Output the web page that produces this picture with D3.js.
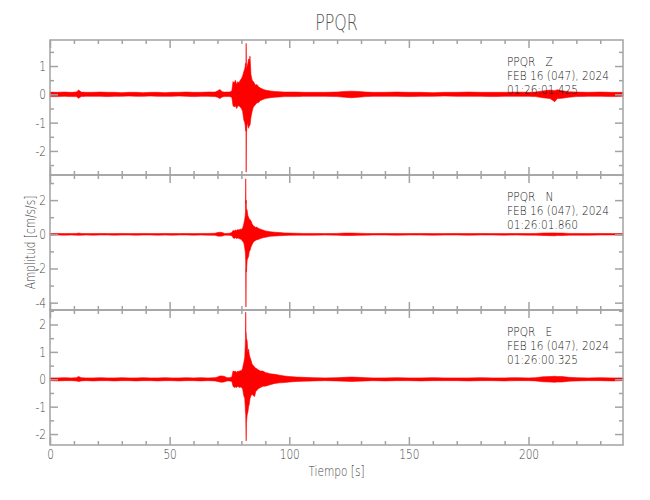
<!DOCTYPE html>
<html><head><meta charset="utf-8">
<script src="https://cdn.jsdelivr.net/npm/d3@7"></script>
<style>
body{margin:0;background:#fff}
svg{display:block}
text{font-family:"DejaVu Sans",sans-serif;font-weight:200}
</style>
</head><body>
<svg id="chart" width="650" height="500"></svg>
<script>
// ---------------- data (envelope of each trace) ----------------
const title = "PPQR";
const xLabel = "Tiempo [s]";
const yLabel = "Amplitud [cm/s/s]";
const xTicks = [0, 50, 100, 150, 200];
const components = ["Z", "N", "E"];
const startTimes = ["01:26:01.425", "01:26:01.860", "01:26:00.325"];
const dateLabel = "FEB 16 (047), 2024";

const times = [
  0, 3, 6, 9, 11, 12, 13, 15,
  18, 21, 24, 27, 30, 33, 36, 39, 42, 45, 48, 51, 54, 57, 60, 63, 66,
  69, 70, 71, 72, 73, 74, 75, 76,
  76.5, 77, 77.5, 78, 78.5, 79, 79.5, 80, 80.5, 81,
  81.4, 81.6, 81.7, 81.8, 81.9, 82.0, 82.1, 82.4, 82.7, 83, 83.3, 83.6, 84,
  84.5, 85, 85.5, 86, 86.5, 87, 88, 89, 90, 92,
  94, 96, 98, 100, 103, 106, 110, 115, 120,
  123, 126, 129, 132,
  135, 140, 145, 150, 155, 160, 165, 170, 175, 180, 185, 190, 195, 200,
  203, 206, 209, 211, 212, 214, 217, 220,
  225, 230, 235, 239.5
];

const zHi = [
  .08, .07, .08, .07, .08, .15, .08, .07,
  .07, .08, .07, .07, .06, .07, .07, .06, .07, .07, .06, .07, .07, .08, .07, .07, .08,
  .08, .12, .17, .09, .08, .08, .08, .12,
  .45, .40, .50, .35, .45, .40, .50, .55, .65, .80,
  .90, 1.0, 1.1, 1.0, 1.0, 1.8, .90, 1.0, 1.1, 1.25, 1.2, 1.35, .70,
  .50, .45, .38, .32, .35, .28, .22, .18, .15, .12,
  .10, .09, .08, .08, .08, .07, .07, .07, .08,
  .10, .11, .10, .08,
  .07, .07, .08, .07, .07, .06, .07, .07, .08, .07, .07, .07, .08, .07,
  .08, .12, .15, .13, .16, .13, .09, .08,
  .07, .08, .07, .07
];
const zLo = [
  -.08, -.08, -.07, -.08, -.08, -.14, -.08, -.07,
  -.07, -.07, -.08, -.07, -.07, -.06, -.07, -.07, -.06, -.07, -.07, -.07, -.06, -.07, -.08, -.07, -.07,
  -.08, -.10, -.15, -.09, -.08, -.08, -.08, -.10,
  -.40, -.45, -.40, -.50, -.42, -.40, -.45, -.50, -.60, -.90,
  -1.0, -1.1, -1.2, -1.3, -1.1, -2.75, -1.4, -1.0, -1.1, -1.2, -1.1, -1.1, -.80,
  -.60, -.45, -.40, -.35, -.30, -.30, -.22, -.18, -.15, -.12,
  -.10, -.09, -.08, -.08, -.08, -.07, -.07, -.07, -.08,
  -.10, -.12, -.10, -.08,
  -.07, -.07, -.07, -.08, -.07, -.07, -.06, -.07, -.07, -.07, -.08, -.07, -.07, -.07,
  -.08, -.12, -.15, -.26, -.15, -.14, -.10, -.08,
  -.07, -.07, -.08, -.07
];

const nHi = [
  .04, .05, .04, .05, .05, .07, .05, .04,
  .04, .05, .04, .04, .05, .04, .04, .05, .04, .04, .05, .04, .04, .05, .04, .05, .05,
  .06, .10, .12, .10, .05, .05, .06, .10,
  .22, .20, .25, .22, .28, .25, .30, .30, .35, .60,
  .90, 1.1, 1.3, 3.25, 1.8, 2.0, 1.5, 1.4, 1.1, 1.0, .90, .85, .80,
  .60, .50, .45, .40, .42, .35, .30, .25, .20, .15,
  .12, .10, .08, .07, .06, .05, .05, .04, .05,
  .07, .07, .06, .05,
  .04, .05, .04, .04, .05, .04, .04, .05, .04, .05, .04, .04, .05, .04,
  .05, .07, .08, .08, .07, .07, .05, .05,
  .04, .05, .04, .04
];
const nLo = [
  -.05, -.04, -.05, -.04, -.05, -.06, -.05, -.04,
  -.05, -.04, -.04, -.05, -.04, -.04, -.05, -.04, -.04, -.05, -.04, -.05, -.04, -.04, -.05, -.04, -.05,
  -.06, -.10, -.11, -.10, -.05, -.05, -.06, -.08,
  -.20, -.25, -.20, -.25, -.22, -.25, -.28, -.30, -.40, -.50,
  -.80, -1.0, -1.2, -1.6, -4.25, -2.0, -2.2, -1.5, -1.4, -1.3, -1.0, -.95, -.75,
  -.60, -.45, -.40, -.35, -.32, -.30, -.25, -.20, -.18, -.12,
  -.10, -.08, -.07, -.06, -.05, -.05, -.05, -.04, -.05,
  -.07, -.07, -.06, -.05,
  -.04, -.04, -.05, -.04, -.04, -.05, -.04, -.04, -.05, -.04, -.04, -.05, -.04, -.05,
  -.05, -.07, -.08, -.09, -.07, -.07, -.05, -.05,
  -.05, -.04, -.04, -.05
];

const eHi = [
  .05, .05, .06, .05, .06, .10, .06, .05,
  .05, .06, .05, .05, .06, .05, .05, .06, .05, .05, .06, .05, .05, .06, .05, .06, .05,
  .06, .08, .12, .12, .10, .06, .06, .08,
  .30, .28, .30, .25, .30, .28, .32, .30, .40, .60,
  .80, 1.2, 1.5, 2.45, 1.75, 1.7, 1.5, 1.4, 1.0, 1.1, .90, .80, .70,
  .55, .50, .45, .40, .38, .35, .30, .30, .25, .20,
  .18, .15, .12, .10, .08, .07, .06, .05, .06,
  .07, .08, .07, .06,
  .05, .05, .06, .05, .05, .06, .05, .05, .05, .06, .05, .05, .06, .05,
  .06, .09, .10, .11, .10, .10, .07, .06,
  .05, .06, .05, .05
];
const eLo = [
  -.05, -.06, -.05, -.05, -.06, -.08, -.06, -.05,
  -.06, -.05, -.05, -.06, -.05, -.05, -.06, -.05, -.05, -.06, -.05, -.05, -.06, -.05, -.05, -.06, -.05,
  -.06, -.08, -.10, -.11, -.09, -.06, -.06, -.08,
  -.25, -.30, -.28, -.30, -.25, -.30, -.28, -.30, -.35, -.60,
  -.70, -1.0, -1.2, -1.3, -1.8, -2.25, -1.6, -1.3, -1.2, -1.0, -.90, -.70, -.60,
  -.55, -.60, -.63, -.45, -.40, -.35, -.30, -.25, -.25, -.20,
  -.15, -.13, -.12, -.10, -.08, -.07, -.06, -.05, -.06,
  -.07, -.08, -.07, -.06,
  -.05, -.06, -.05, -.05, -.06, -.05, -.05, -.05, -.06, -.05, -.05, -.06, -.05, -.05,
  -.06, -.09, -.10, -.11, -.10, -.10, -.07, -.06,
  -.05, -.05, -.06, -.05
];

// y-axis extents and tick spacing of each panel
const yDomains = [[-2.85, 1.92], [-4.43, 3.47], [-2.40, 2.53]];
const yMajorStep = [1, 2, 1];
const yMinorStep = [0.5, 1, 0.5];

// ---------------- drawing ----------------
const hiSeries = [zHi, nHi, eHi];
const loSeries = [zLo, nLo, eLo];
const svg = d3.select("#chart");
const left = 50, right = 623, top0 = 40, panelH = 135;
const axisCol = "#a3a3a3", labelCol = "#444";

// narrow the glyphs so the text looks like the condensed plotting font
let squeezeK = 1;
function squeeze(sel, k) {
  sel.each(function () {
    const w = this.getComputedTextLength();
    if (w > 0) d3.select(this).attr("textLength", w * k).attr("lengthAdjust", "spacingAndGlyphs");
  });
}
{
  const probe = svg.append("text").attr("font-size", 14).text(dateLabel);
  squeezeK = 102 / probe.node().getComputedTextLength();
  probe.remove();
}

const x = d3.scaleLinear().domain([0, 239.5]).range([left, right]);
const xMinor = d3.range(0, 240, 10);

svg.append("text").attr("x", (left + right) / 2).attr("y", 30)
  .attr("text-anchor", "middle").attr("font-size", 21).attr("fill", "#555").text(title)
  .call(squeeze, squeezeK);

components.forEach((comp, p) => {
  const y0 = top0 + p * panelH, y1 = y0 + panelH;
  const y = d3.scaleLinear().domain(yDomains[p]).range([y1, y0]);
  const g = svg.append("g");

  // trace (envelope area)
  const rows = times.map((t, i) => ({t, hi: hiSeries[p][i], lo: loSeries[p][i]}));
  const area = d3.area().x(d => x(d.t)).y0(d => y(d.lo)).y1(d => y(d.hi));
  g.append("path").datum(rows).attr("d", area)
    .attr("fill", "#ff0000").attr("stroke", "#ff0000").attr("stroke-width", 0.6)
    .attr("stroke-linejoin", "round");

  const [dmin, dmax] = yDomains[p];
  const major = d3.range(Math.ceil(dmin / yMajorStep[p]) * yMajorStep[p], dmax + 1e-9, yMajorStep[p]);
  const minor = d3.range(Math.ceil(dmin / yMinorStep[p]) * yMinorStep[p], dmax + 1e-9, yMinorStep[p])
    .filter(v => !major.some(m => Math.abs(m - v) < 1e-9));
  const fmt = d => String(Math.round(d));

  const style = sel => {
    sel.select(".domain").remove();
    sel.selectAll("line").attr("stroke", axisCol).attr("stroke-width", 1.5);
    sel.selectAll("text").attr("fill", labelCol).attr("font-size", 14).call(squeeze, squeezeK);
  };

  g.append("g").attr("transform", `translate(${left},0)`)
    .call(d3.axisLeft(y).tickValues(major).tickSize(-8).tickPadding(4).tickFormat(fmt)).call(style);
  g.append("g").attr("transform", `translate(${left},0)`)
    .call(d3.axisLeft(y).tickValues(minor).tickSize(-4).tickFormat("")).call(style);
  g.append("g").attr("transform", `translate(${right},0)`)
    .call(d3.axisRight(y).tickValues(major).tickSize(-8).tickFormat("")).call(style);
  g.append("g").attr("transform", `translate(${right},0)`)
    .call(d3.axisRight(y).tickValues(minor).tickSize(-4).tickFormat("")).call(style);

  g.append("g").attr("transform", `translate(0,${y0})`)
    .call(d3.axisTop(x).tickValues(xTicks).tickSize(-8).tickFormat("")).call(style);
  g.append("g").attr("transform", `translate(0,${y0})`)
    .call(d3.axisTop(x).tickValues(xMinor.filter(v => v % 50)).tickSize(-4).tickFormat("")).call(style);
  g.append("g").attr("transform", `translate(0,${y1})`)
    .call(d3.axisBottom(x).tickValues(xTicks).tickSize(-8).tickPadding(4)
      .tickFormat(p === 2 ? d3.format("d") : "")).call(style);
  g.append("g").attr("transform", `translate(0,${y1})`)
    .call(d3.axisBottom(x).tickValues(xMinor.filter(v => v % 50)).tickSize(-4).tickFormat("")).call(style);

  // frame
  g.append("rect").attr("x", left).attr("y", y0).attr("width", right - left).attr("height", panelH)
    .attr("fill", "none").attr("stroke", axisCol).attr("stroke-width", 1.5);

  // annotation
  const lines = [`${title}   ${comp}`, dateLabel, startTimes[p]];
  lines.forEach((s, i) => {
    g.append("text").attr("x", 507).attr("y", y0 + 25.7 + i * 14.3)
      .attr("font-size", 12.2).attr("fill", "#222").style("white-space", "pre").text(s)
      .call(squeeze, squeezeK * 14 / 12.2);
  });
});

svg.append("text").attr("x", (left + right) / 2).attr("y", 476)
  .attr("text-anchor", "middle").attr("font-size", 14).attr("fill", labelCol).text(xLabel)
  .call(squeeze, squeezeK);
svg.append("text").attr("transform", `translate(35,${top0 + 1.5 * panelH}) rotate(-90)`)
  .attr("text-anchor", "middle").attr("font-size", 14).attr("fill", labelCol).text(yLabel)
  .call(squeeze, squeezeK);
</script>
</body></html>
